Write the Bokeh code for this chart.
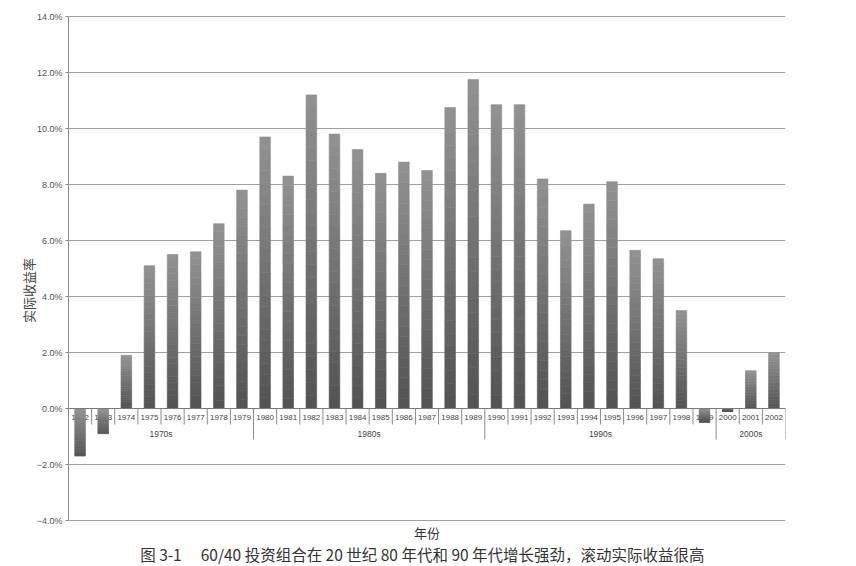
from bokeh.plotting import figure
from bokeh.models import Range1d, FixedTicker, PrintfTickFormatter, Span
from bokeh.core.properties import value
from bokeh.embed import file_html
from bokeh.resources import INLINE

# datos
anios = [str(a) for a in range(1972, 2003)]
rendimiento = [-1.7, -0.9, 1.9, 5.1, 5.5, 5.6, 6.6, 7.8,
               9.7, 8.3, 11.2, 9.8, 9.25, 8.4, 8.8, 8.5, 10.75, 11.75,
               10.85, 10.85, 8.2, 6.35, 7.3, 8.1, 5.65, 5.35, 3.5, -0.5,
               -0.1, 1.35, 2.0]
decadas = [a[:3] + "0s" for a in anios]
y_ticks = [-4, -2, 0, 2, 4, 6, 8, 10, 12, 14]

titulo_x = "年份"
titulo_y = "实际收益率"
leyenda = "图 3-1\u3000 60/40 投资组合在 20 世纪 80 年代和 90 年代增长强劲，滚动实际收益很高"

ANCHO, ALTO = 856, 566
BORDE_IZQ, BORDE_DER, BORDE_SUP = 68, 71, 14
ALTO_MARCO = ALTO - BORDE_SUP
Y_FIN = 14 + 2 / 28
Y_INI = Y_FIN - ALTO_MARCO / 28
PX = (Y_FIN - Y_INI) / ALTO_MARCO  # unidades de datos por pixel

n = len(anios)

p = figure(width=ANCHO, height=ALTO, output_backend="svg", toolbar_location=None,
           x_range=Range1d(0, n), y_range=Range1d(Y_INI, Y_FIN),
           x_axis_type=None,
           min_border_left=BORDE_IZQ, min_border_right=BORDE_DER,
           min_border_top=BORDE_SUP, min_border_bottom=0)
p.outline_line_color = None
p.background_fill_color = "white"
p.xgrid.visible = False

p.ygrid.ticker = FixedTicker(ticks=y_ticks)
p.ygrid.grid_line_color = "#a0a0a0"
p.ygrid.grid_line_width = 1

eje = p.yaxis[0]
eje.ticker = FixedTicker(ticks=y_ticks, minor_ticks=[])
eje.formatter = PrintfTickFormatter(format="%.1f%%")
eje.major_label_overrides = {-2: "\u22122.0%", -4: "\u22124.0%"}
eje.bounds = (-4, 14)
eje.axis_line_color = "#8a8a8a"
eje.major_tick_line_color = "#8a8a8a"
eje.major_tick_out = 3
eje.major_tick_in = 0
eje.minor_tick_line_color = None
eje.major_label_text_font = "Liberation Sans"
eje.major_label_text_font_size = "9px"
eje.major_label_text_color = "#555555"
eje.major_label_standoff = 3
eje.axis_label = titulo_y
eje.axis_label_text_font = "Noto Sans CJK SC"
eje.axis_label_text_font_size = "13px"
eje.axis_label_text_font_style = "normal"
eje.axis_label_text_color = "#444444"
eje.axis_label_standoff = -4

# eje horizontal en cero
p.add_layout(Span(location=0, dimension="width", line_color="#7a7a7a", line_width=1))

# etiquetas de anios
centros = [i + 0.5 for i in range(n)]
p.text(x=centros, y=[-9 * PX] * n, text=anios, text_align="center",
       text_baseline="middle", text_font=value("Liberation Sans"),
       text_font_size="8px", text_color="#444444")

# separadores de anios y decadas
grupos = []
for i, d in enumerate(decadas):
    if not grupos or grupos[-1][0] != d:
        grupos.append([d, i, i + 1])
    else:
        grupos[-1][2] = i + 1
limites = [g[2] for g in grupos]
sep_x = [i for i in range(1, n) if i not in limites]
p.segment(x0=sep_x, y0=[0] * len(sep_x), x1=sep_x, y1=[-16 * PX] * len(sep_x),
          line_color="#8a8a8a", line_width=1)
p.segment(x0=limites, y0=[0] * len(limites), x1=limites, y1=[-31 * PX] * len(limites),
          line_color="#8a8a8a", line_width=1)
p.text(x=[(g[1] + g[2]) / 2 for g in grupos], y=[-25 * PX] * len(grupos),
       text=[g[0] for g in grupos], text_align="center", text_baseline="middle",
       text_font=value("Liberation Sans"), text_font_size="8.5px", text_color="#444444")

# barras con degradado (claro arriba, oscuro abajo)
N = 24
claro, oscuro = (145, 145, 145), (84, 84, 84)
xs, bot, top, col = [], [], [], []
for i, v in enumerate(rendimiento):
    for k in range(N):
        b, t = v * k / N, v * (k + 1) / N
        desde_arriba = (N - 1 - k) if v >= 0 else k
        f = desde_arriba / (N - 1)
        c = tuple(int(claro[j] + (oscuro[j] - claro[j]) * f) for j in range(3))
        xs.append(centros[i])
        bot.append(b)
        top.append(t)
        col.append("#%02x%02x%02x" % c)
p.vbar(x=xs, bottom=bot, top=top, width=0.46, fill_color=col, line_color=col, line_width=0.6)

# titulo del eje x y leyenda de la figura
p.text(x=[n / 2], y=[-124 * PX], text=[titulo_x], text_align="center", text_baseline="middle",
       text_font=value("Noto Sans CJK SC"), text_font_size="13px", text_color="#333333")
p.text(x=[n / 2 - 0.2], y=[-145 * PX], text=[leyenda], text_align="center", text_baseline="middle",
       text_font=value("Noto Sans CJK SC"), text_font_size="15.5px", text_color="#333333")

open("out.html", "w").write(file_html(p, INLINE))
